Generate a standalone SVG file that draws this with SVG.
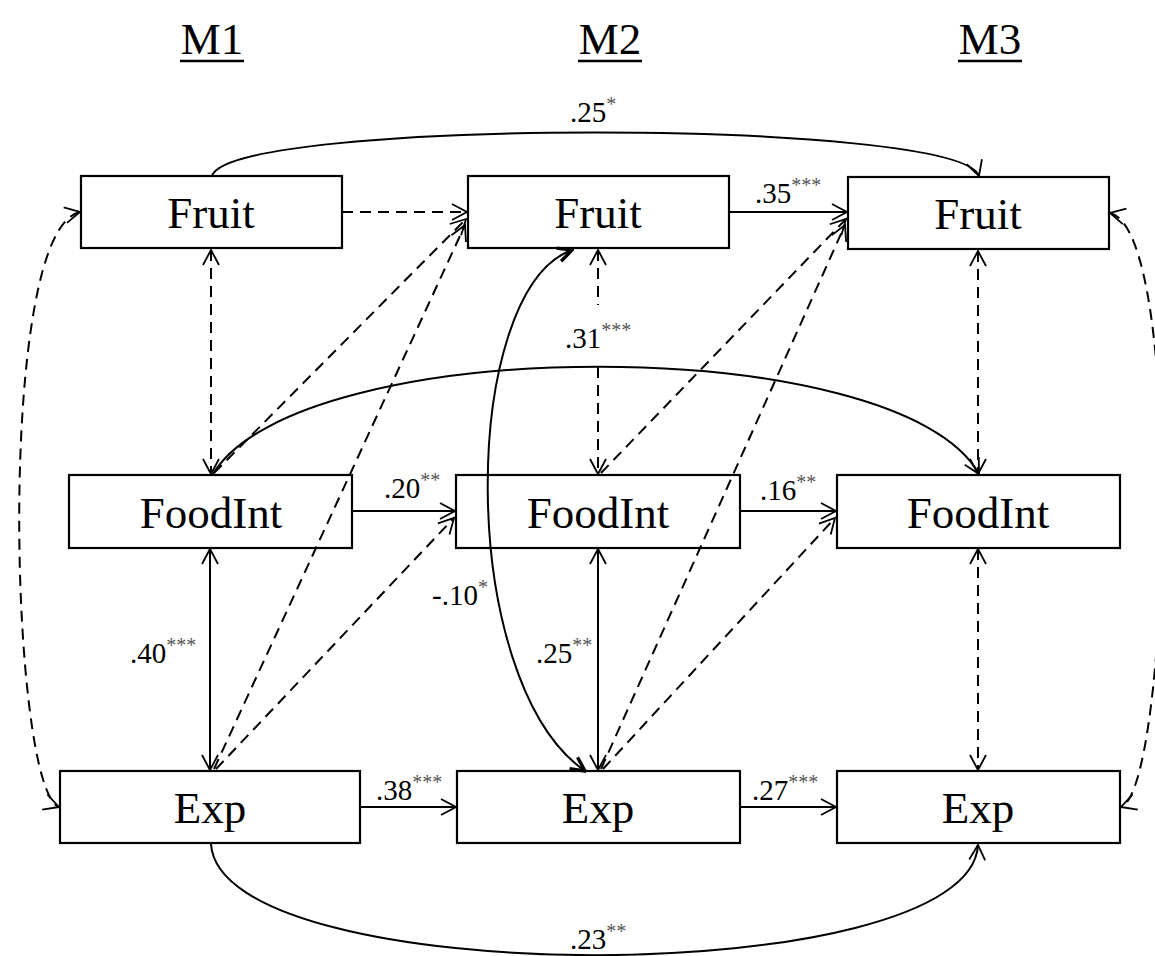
<svg xmlns="http://www.w3.org/2000/svg" width="1155" height="956" viewBox="0 0 1155 956">
  <style>
    .box { fill: none; stroke: #000; stroke-width: 2.2; }
    .node { font-family: "Liberation Serif", "Times New Roman", serif; font-size: 45px; fill: #000; text-anchor: middle; }
    .head { font-family: "Liberation Serif", "Times New Roman", serif; font-size: 45px; fill: #000; text-anchor: middle; }
    .ul { stroke: #000; stroke-width: 2.4; }
    .solid { fill: none; stroke: #000; stroke-width: 2; }
    .dash { fill: none; stroke: #000; stroke-width: 2; stroke-dasharray: 11 7; }
    .thick { fill: none; stroke: #000; stroke-width: 2; }
    .lbl { font-family: "Liberation Serif", "Times New Roman", serif; font-size: 29px; fill: #000; }
    .sup { font-size: 20px; fill: #555; }
  </style>
  <defs>
    <marker id="ah" viewBox="0 0 20 20" refX="18" refY="10" markerWidth="20" markerHeight="20" markerUnits="userSpaceOnUse" orient="auto-start-reverse">
      <path d="M3,2 L18,10 L3,18" fill="none" stroke="#000" stroke-width="1.8" stroke-dasharray="none"/>
    </marker>
    <marker id="ahb" viewBox="0 0 20 20" refX="18" refY="10" markerWidth="20" markerHeight="20" markerUnits="userSpaceOnUse" orient="auto-start-reverse">
      <path d="M4,3 L18,10 L4,17" fill="none" stroke="#000" stroke-width="3.4" stroke-linejoin="miter"/>
    </marker>
  </defs>

  <rect width="1155" height="956" fill="#fff"/>

  <!-- wave headings -->
  <g id="headings">
    <text class="head" x="212" y="54">M1</text>
    <line class="ul" x1="180" y1="61" x2="244" y2="61"/>
    <text class="head" x="610" y="54">M2</text>
    <line class="ul" x1="578" y1="61" x2="642" y2="61"/>
    <text class="head" x="990" y="54">M3</text>
    <line class="ul" x1="958" y1="61" x2="1022" y2="61"/>
  </g>

  <!-- measures -->
  <g id="fruit-m1"><rect class="box" x="81" y="176" width="261" height="72"/><text class="node" x="211" y="228">Fruit</text></g>
  <g id="fruit-m2"><rect class="box" x="468" y="176" width="261" height="72"/><text class="node" x="598" y="228">Fruit</text></g>
  <g id="fruit-m3"><rect class="box" x="848" y="177" width="261" height="72"/><text class="node" x="978" y="229">Fruit</text></g>
  <g id="foodint-m1"><rect class="box" x="69" y="475" width="283" height="73"/><text class="node" x="211" y="528">FoodInt</text></g>
  <g id="foodint-m2"><rect class="box" x="456" y="475" width="284" height="73"/><text class="node" x="598" y="528">FoodInt</text></g>
  <g id="foodint-m3"><rect class="box" x="837" y="475" width="283" height="73"/><text class="node" x="978" y="528">FoodInt</text></g>
  <g id="exp-m1"><rect class="box" x="60" y="771" width="300" height="72"/><text class="node" x="210" y="823">Exp</text></g>
  <g id="exp-m2"><rect class="box" x="457" y="771" width="283" height="72"/><text class="node" x="598" y="823">Exp</text></g>
  <g id="exp-m3"><rect class="box" x="837" y="771" width="283" height="72"/><text class="node" x="978" y="823">Exp</text></g>

  <!-- paths between measures -->
  <g id="connectors">
    <!-- autoregressive / cross-wave paths -->
    <path class="dash" d="M342,212 H467" marker-end="url(#ah)"/>
    <path class="solid" d="M729,212 H847" marker-end="url(#ah)"/>
    <path class="solid" d="M212,176 C230,118 960,118 979,176" marker-end="url(#ah)"/>
    <path class="solid" d="M352,511 H455" marker-end="url(#ah)"/>
    <path class="solid" d="M740,511 H836" marker-end="url(#ah)"/>
    <path class="solid" d="M360,807 H456" marker-end="url(#ah)"/>
    <path class="solid" d="M740,807 H836" marker-end="url(#ah)"/>
    <path class="solid" d="M211,844 C220,992 970,992 978,845" marker-end="url(#ah)"/>
    <path class="solid" d="M213,474 C300,331 900,331 979,474" marker-end="url(#ah)"/>

    <!-- within-wave covariances -->
    <path class="dash" d="M211,250 V474" marker-start="url(#ah)" marker-end="url(#ah)"/>
    <path class="dash" d="M598,250 V305" marker-start="url(#ah)"/>
    <path class="dash" d="M598,367 V474" marker-end="url(#ah)"/>
    <path class="dash" d="M978,251 V474" marker-start="url(#ah)" marker-end="url(#ah)"/>
    <path class="solid" d="M210,549 V770" marker-start="url(#ah)" marker-end="url(#ah)"/>
    <path class="solid" d="M598,549 V770" marker-start="url(#ah)" marker-end="url(#ah)"/>
    <path class="dash" d="M978,549 V770" marker-start="url(#ah)" marker-end="url(#ah)"/>

    <!-- Exp M2 with Fruit M2 -->
    <path class="thick" d="M572,250 C460,290 455,680 585,771" marker-start="url(#ahb)" marker-end="url(#ahb)"/>

    <!-- cross-lagged paths -->
    <path class="dash" d="M214,473 L466,219" marker-end="url(#ah)"/>
    <path class="dash" d="M214,769 L465,225" marker-end="url(#ah)"/>
    <path class="dash" d="M216,769 L454,518" marker-end="url(#ah)"/>
    <path class="dash" d="M601,473 L846,219" marker-end="url(#ah)"/>
    <path class="dash" d="M601,769 L845,225" marker-end="url(#ah)"/>
    <path class="dash" d="M603,769 L835,518" marker-end="url(#ah)"/>

    <!-- outer covariances -->
    <path class="dash" d="M80,212 C-5,230 10,790 59,807" marker-start="url(#ah)" marker-end="url(#ah)"/>
    <path class="dash" d="M1110,213 C1185,230 1170,790 1121,807" marker-start="url(#ah)" marker-end="url(#ah)"/>
  </g>

  <!-- coefficients -->
  <g id="labels">
    <text class="lbl" x="570" y="122">.25<tspan class="sup" dy="-11">*</tspan></text>
    <text class="lbl" x="755" y="203">.35<tspan class="sup" dy="-11">***</tspan></text>
    <text class="lbl" x="565" y="348">.31<tspan class="sup" dy="-11">***</tspan></text>
    <text class="lbl" x="384" y="498">.20<tspan class="sup" dy="-11">**</tspan></text>
    <text class="lbl" x="760" y="500">.16<tspan class="sup" dy="-11">**</tspan></text>
    <text class="lbl" x="432" y="605">-.10<tspan class="sup" dy="-11">*</tspan></text>
    <text class="lbl" x="130" y="663">.40<tspan class="sup" dy="-11">***</tspan></text>
    <text class="lbl" x="536" y="663">.25<tspan class="sup" dy="-11">**</tspan></text>
    <text class="lbl" x="376" y="800">.38<tspan class="sup" dy="-11">***</tspan></text>
    <text class="lbl" x="752" y="800">.27<tspan class="sup" dy="-11">***</tspan></text>
    <text class="lbl" x="570" y="949">.23<tspan class="sup" dy="-11">**</tspan></text>
  </g>
</svg>
